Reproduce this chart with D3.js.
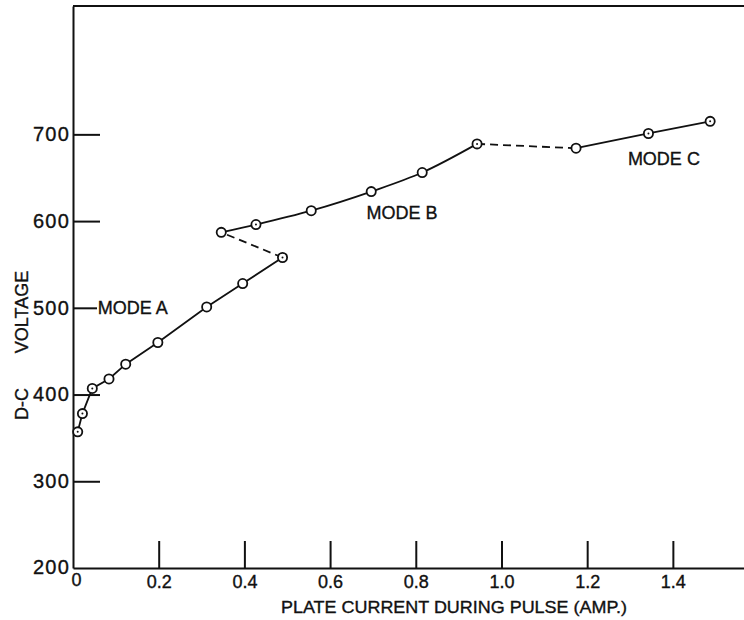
<!DOCTYPE html>
<html>
<head>
<meta charset="utf-8">
<script src="https://cdn.jsdelivr.net/npm/d3@7"></script>
<style>
  body { margin: 0; background: #fff; }
  svg text { font-family: "Liberation Sans", Arial, sans-serif; fill: #111; stroke: #111; stroke-width: 0.35; }
</style>
</head>
<body>
<div class="graphic"></div>
<script>
// plate current (amp) and d-c voltage, three modes
var modeA_current = [0.011, 0.022, 0.045, 0.084, 0.123, 0.198, 0.312, 0.396, 0.489];
var modeA_voltage = [357, 378, 407, 418, 435, 460, 501, 528, 558];
var modeA_dot     = [true, true, true, false, false, false, false, false, true];

var modeB_current = [0.346, 0.427, 0.556, 0.696, 0.815, 0.943];
var modeB_voltage = [587, 596, 612, 634, 656, 689];
var modeB_dot     = [false, true, false, false, false, true];

var modeC_current = [1.174, 1.343, 1.487];
var modeC_voltage = [684, 701, 715];
var modeC_dot     = [false, true, true];

var xTicks = [0, 0.2, 0.4, 0.6, 0.8, 1.0, 1.2, 1.4];
var xTickLabels = ["0", "0.2", "0.4", "0.6", "0.8", "1.0", "1.2", "1.4"];
var yTicks = [200, 300, 400, 500, 600, 700];
var yTickLabels = ["200", "300", "400", "500", "600", "700"];

var modeLabels = [
  {text: "MODE A", current: 0.058, voltage: 500},
  {text: "MODE B", current: 0.685, voltage: 610},
  {text: "MODE C", current: 1.295, voltage: 672}
];

var width = 744, height = 620;
var margin = {top: 6, right: 0, bottom: 52, left: 73};

var x = d3.scaleLinear().domain([0, 1.566]).range([margin.left, width - margin.right]);
var y = d3.scaleLinear().domain([200, 848]).range([height - margin.bottom, margin.top]);

var svg = d3.select(".graphic").append("svg")
    .attr("width", width)
    .attr("height", height);

function zip(cs, vs, ds) {
  return cs.map(function(c, i) { return {c: c, v: vs[i], dot: ds[i]}; });
}
var A = zip(modeA_current, modeA_voltage, modeA_dot);
var B = zip(modeB_current, modeB_voltage, modeB_dot);
var C = zip(modeC_current, modeC_voltage, modeC_dot);

// frame: top line, left and bottom axes
svg.append("line")
    .attr("x1", x(0)).attr("x2", x.range()[1])
    .attr("y1", y.range()[1]).attr("y2", y.range()[1])
    .attr("stroke", "#111").attr("stroke-width", 2);

var yAxis = svg.append("g")
    .attr("transform", "translate(" + x(0) + ",0)")
    .call(d3.axisLeft(y)
      .tickValues(yTicks.slice(1))
      .tickFormat(function(d) { return yTickLabels[yTicks.indexOf(d)]; })
      .tickSizeInner(-27).tickSizeOuter(0).tickPadding(3));
yAxis.select(".domain").attr("stroke", "#111").attr("stroke-width", 2);
yAxis.selectAll(".tick line").attr("stroke", "#111").attr("stroke-width", 2);
yAxis.selectAll(".tick text")
    .attr("font-size", 20).attr("letter-spacing", 1.2).attr("fill", "#111")
    .style("font-family", "'Liberation Sans', Arial, sans-serif");
// the 500 tick is a bit shorter, it runs into the MODE A label
yAxis.selectAll(".tick line").filter(function(d) { return d === 500; }).attr("x2", 24);

// corner label 200
svg.append("text")
    .attr("x", x(0) - 3).attr("y", y(200))
    .attr("dy", "0.3em")
    .attr("text-anchor", "end")
    .attr("font-size", 20).attr("letter-spacing", 1.2)
    .text(yTickLabels[0]);

var xAxis = svg.append("g")
    .attr("transform", "translate(0," + y(200) + ")")
    .call(d3.axisBottom(x)
      .tickValues(xTicks)
      .tickFormat(function(d) { return xTickLabels[xTicks.indexOf(d)]; })
      .tickSizeInner(-27).tickSizeOuter(0).tickPadding(7));
xAxis.select(".domain").attr("stroke", "#111").attr("stroke-width", 2);
xAxis.selectAll(".tick line").attr("stroke", "#111").attr("stroke-width", 2)
    .filter(function(d) { return d === 0; }).remove();
xAxis.selectAll(".tick text")
    .attr("font-size", 18).attr("fill", "#111")
    .style("font-family", "'Liberation Sans', Arial, sans-serif");
xAxis.selectAll(".tick text").filter(function(d) { return d === 0; })
    .attr("x", 3).attr("y", 5);

// axis titles
svg.append("text")
    .attr("x", 454).attr("y", 613)
    .attr("text-anchor", "middle")
    .attr("font-size", 17)
    .attr("textLength", 346).attr("lengthAdjust", "spacingAndGlyphs")
    .text("PLATE CURRENT DURING PULSE (AMP.)");

svg.append("text")
    .attr("transform", "translate(28,404) rotate(-90)")
    .attr("text-anchor", "middle")
    .attr("font-size", 18)
    .text("D-C");
svg.append("text")
    .attr("transform", "translate(28,312) rotate(-90)")
    .attr("text-anchor", "middle")
    .attr("font-size", 18)
    .text("VOLTAGE");

// curves
var line = d3.line()
    .x(function(d) { return x(d.c); })
    .y(function(d) { return y(d.v); });
var smooth = d3.line()
    .x(function(d) { return x(d.c); })
    .y(function(d) { return y(d.v); })
    .curve(d3.curveMonotoneX);

svg.append("path").datum(A).attr("d", line)
    .attr("fill", "none").attr("stroke", "#111").attr("stroke-width", 1.8);
svg.append("path").datum(B).attr("d", smooth)
    .attr("fill", "none").attr("stroke", "#111").attr("stroke-width", 1.8);
svg.append("path").datum(C).attr("d", line)
    .attr("fill", "none").attr("stroke", "#111").attr("stroke-width", 1.8);

// mode jumps are dashed
[[A[A.length - 1], B[0]], [B[B.length - 1], C[0]]].forEach(function(seg) {
  svg.append("path").datum(seg).attr("d", line)
      .attr("fill", "none").attr("stroke", "#111").attr("stroke-width", 1.8)
      .attr("stroke-dasharray", "8,5");
});

// open circle markers, some with a centre dot
var pts = A.concat(B, C);
svg.selectAll(".pt")
    .data(pts)
    .enter()
    .append("circle")
    .attr("class", "pt")
    .attr("cx", function(d) { return x(d.c); })
    .attr("cy", function(d) { return y(d.v); })
    .attr("r", 4.6)
    .attr("fill", "#fff").attr("stroke", "#111").attr("stroke-width", 1.8);
svg.selectAll(".dot")
    .data(pts.filter(function(d) { return d.dot; }))
    .enter()
    .append("circle")
    .attr("class", "dot")
    .attr("cx", function(d) { return x(d.c); })
    .attr("cy", function(d) { return y(d.v); })
    .attr("r", 1)
    .attr("fill", "#111");

// mode labels
svg.selectAll(".mode")
    .data(modeLabels)
    .enter()
    .append("text")
    .attr("class", "mode")
    .attr("x", function(d) { return x(d.current); })
    .attr("y", function(d) { return y(d.voltage); })
    .attr("dy", "0.35em")
    .attr("font-size", 18)
    .text(function(d) { return d.text; });
</script>
</body>
</html>
